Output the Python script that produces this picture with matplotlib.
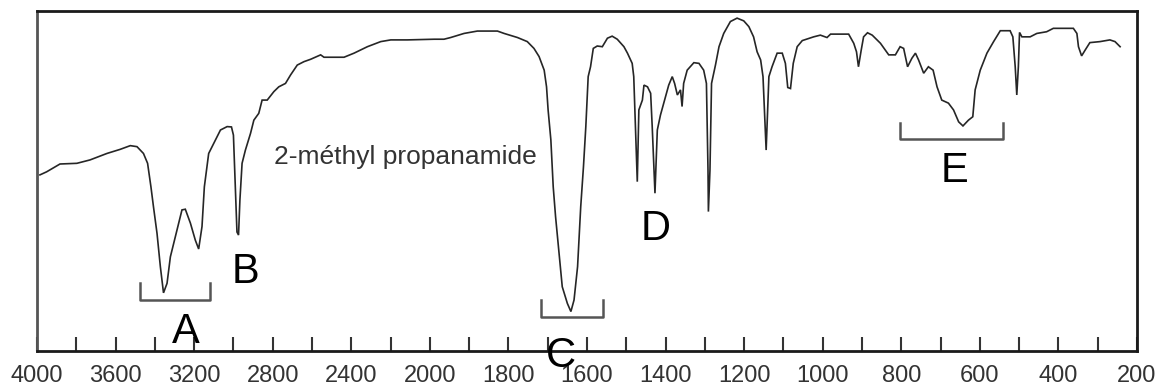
import numpy as np
import matplotlib
matplotlib.use("Agg")
import matplotlib.pyplot as plt

plt.rcParams['font.family'] = ['Liberation Sans', 'DejaVu Sans']

# IR spectrum of 2-methylpropanamide (wavenumber cm-1, transmittance %)
wavenumber = [3985, 3951, 3883, 3797, 3730, 3644, 3577, 3525, 3491, 3458, 3437, 3420, 3407, 3389,
              3372, 3356, 3338, 3321, 3287, 3262, 3245, 3219, 3194, 3177, 3160, 3148, 3126, 3100,
              3066, 3032, 3010, 3000, 2990, 2982, 2974, 2967, 2956, 2939, 2913, 2896, 2871, 2854,
              2828, 2794, 2769, 2735, 2709, 2675, 2641, 2607, 2556, 2539, 2437, 2386, 2318, 2250,
              2199, 2114, 1989, 1964, 1947, 1913, 1879, 1828, 1811, 1777, 1752, 1735, 1722, 1709,
              1703, 1699, 1692, 1686, 1680, 1671, 1663, 1650, 1641, 1633, 1624, 1616, 1609, 1603,
              1597, 1591, 1584, 1574, 1561, 1548, 1536, 1523, 1506, 1497, 1485, 1481, 1476, 1472,
              1468, 1459, 1455, 1446, 1438, 1434, 1427, 1421, 1413, 1400, 1392, 1383, 1377, 1370,
              1362, 1358, 1354, 1345, 1328, 1315, 1303, 1296, 1292, 1291, 1287, 1283, 1273, 1264,
              1252, 1235, 1218, 1201, 1188, 1176, 1167, 1158, 1152, 1144, 1137, 1129, 1116, 1103,
              1095, 1089, 1082, 1075, 1065, 1052, 1023, 1006, 989, 980, 934, 921, 914, 909, 902,
              896, 886, 874, 853, 832, 815, 803, 794, 784, 773, 764, 756, 743, 731, 719, 709, 697,
              680, 667, 654, 643, 629, 618, 612, 599, 582, 565, 548, 523, 516, 510, 506, 502, 499,
              493, 472, 455, 430, 413, 362, 353, 349, 341, 332, 320, 294, 269, 256, 243]
transmittance = [51.8, 52.7, 55.0, 55.2, 56.2, 58.1, 59.3, 60.4, 60.1, 58.1, 55.2, 48.3, 42.4, 34.6,
                 24.8, 17.1, 19.9, 27.7, 35.6, 41.5, 41.7, 37.6, 32.6, 30.0, 36.6, 48.3, 58.1, 61.1,
                 65.0, 66.0, 65.9, 63.5, 47.4, 35.0, 34.1, 44.4, 55.2, 59.1, 64.0, 67.9, 69.9, 73.8,
                 73.8, 76.3, 77.7, 78.7, 81.2, 84.1, 85.1, 85.8, 87.1, 86.4, 86.4, 87.6, 89.5, 91.0,
                 91.5, 91.5, 91.7, 91.7, 92.2, 93.4, 94.1, 94.1, 93.4, 92.2, 91.0, 89.0, 86.6, 82.6,
                 77.7, 70.9, 62.1, 48.3, 39.5, 28.7, 18.9, 14.0, 11.6, 15.0, 24.8, 42.4, 54.2, 66.0,
                 80.7, 83.6, 89.0, 89.7, 89.5, 92.0, 92.6, 91.7, 89.5, 87.6, 84.6, 80.7, 64.0, 49.8,
                 70.9, 73.8, 78.2, 77.7, 75.8, 66.0, 46.4, 65.0, 69.4, 74.8, 78.2, 80.7, 78.7, 75.3,
                 76.8, 71.9, 78.7, 82.6, 84.8, 84.6, 82.6, 78.7, 53.2, 41.0, 53.2, 78.7, 84.1, 89.5,
                 93.4, 96.9, 97.9, 97.1, 95.4, 92.4, 88.0, 85.6, 80.7, 59.1, 80.7, 83.6, 87.6, 87.6,
                 84.6, 77.5, 77.2, 84.6, 89.5, 91.3, 92.4, 92.9, 92.2, 93.2, 93.2, 90.5, 88.0, 83.6, 88.5,
                 92.4, 93.6, 92.9, 90.5, 87.1, 87.1, 89.5, 89.0, 83.6, 86.1, 87.6, 85.6, 81.7, 83.6, 82.6, 77.7, 73.8,
                 72.9, 70.9, 67.4, 66.2, 67.9, 68.9, 76.8, 82.6, 87.6, 91.0, 94.2, 94.2, 92.4, 83.6, 75.3, 83.6, 93.7,
                 92.4, 92.4, 93.4, 93.9, 94.9, 94.9, 93.4, 89.5, 86.8, 88.5, 90.7, 91.0, 91.5, 91.0, 89.5]

compound_name = "2-méthyl propanamide"
band_letters = ["A", "B", "C", "D", "E"]
letter_wn = [3245, 2939, 1667, 1425, 665]
letter_t = [2.4, 20.0, -4.7, 32.6, 49.7]
# brackets: (start wn, end wn, line level, tick top level)
bracket_ranges = [(3475, 3120, 15.0, 20.0), (1718, 1560, 10.0, 15.0), (804, 540, 62.4, 67.1)]

major_ticks = [4000, 3600, 3200, 2800, 2400, 2000, 1800, 1600, 1400, 1200, 1000, 800, 600, 400, 200]
minor_ticks = [3800, 3400, 3000, 2600, 2200, 1900, 1700, 1500, 1300, 1100, 900, 700, 500, 300]


def forward(x):
    x = np.asarray(x, dtype=float)
    return np.where(x >= 2000, x, 2 * x - 2000)


def inverse(u):
    u = np.asarray(u, dtype=float)
    return np.where(u >= 2000, u, (u + 2000) / 2)


fig = plt.figure(figsize=(11.61, 3.87), dpi=100)
ax = fig.add_axes([37 / 1161, 1 - 351 / 387, 1100 / 1161, 340 / 387])
ax.set_xscale('function', functions=(forward, inverse))
ax.set_xlim(4000, 200)
ax.set_ylim(0, 100)

ax.plot(wavenumber, transmittance, color='#262626', lw=1.2, solid_joinstyle='miter')

for (x0, x1, ylev, ytop) in bracket_ranges:
    ax.plot([x0, x0, x1, x1], [ytop, ylev, ylev, ytop], color='#555555', lw=1.8, clip_on=False)

for lab, xw, yt in zip(band_letters, letter_wn, letter_t):
    ax.text(xw, yt, lab, fontsize=30, ha='center', va='baseline', color='black',
            zorder=6, clip_on=False)

ax.text(2796, 55.0, compound_name, fontsize=19, ha='left', va='baseline', color='#333333')

ax.set_xticks(major_ticks)
ax.set_xticklabels([str(t) for t in major_ticks])
ax.set_xticks(minor_ticks, minor=True)
ax.set_yticks([])
ax.tick_params(axis='x', which='both', direction='in', length=10, width=1.5, color='#333333',
               top=False, bottom=True)
ax.tick_params(axis='x', which='major', labelsize=17, labelcolor='#333333', pad=10)

for side in ['top', 'right', 'bottom', 'left']:
    ax.spines[side].set_linewidth(2.0)
    ax.spines[side].set_color('#1a1a1a')
ax.spines['left'].set_color('#555555')

fig.savefig('out.png', dpi=100)
